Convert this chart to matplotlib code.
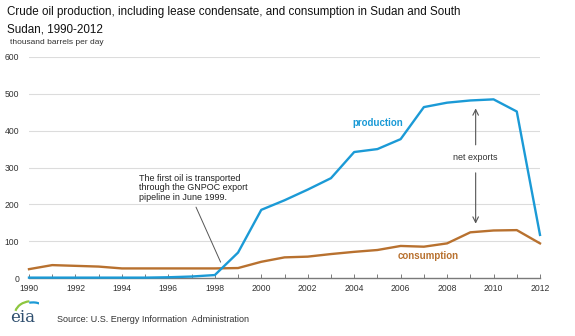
import matplotlib
matplotlib.use("Agg")
import matplotlib.pyplot as plt
from matplotlib.patches import Arc

plt.rcParams['font.family'] = ['Liberation Sans', 'DejaVu Sans']

years = list(range(1990, 2013))
production = [1, 1, 1, 1, 1, 1, 2, 4, 8, 69, 185, 211, 240, 271, 342, 350, 377,
              464, 476, 482, 485, 452, 117]
consumption = [24, 35, 33, 31, 26, 26, 26, 26, 26, 27, 44, 56, 58, 65, 71, 76, 87,
               85, 94, 124, 129, 130, 94]
yticks = [0, 100, 200, 300, 400, 500, 600]
xticks = list(range(1990, 2013, 2))

BLUE = '#1b9ad6'
BROWN = '#b8712f'

fig = plt.figure(figsize=(5.75, 3.36), dpi=100)
fig.patch.set_facecolor('white')
ax = fig.add_axes([29/575, 58/336, 511/575, 221/336])

ax.set_xlim(1990, 2012)
ax.set_ylim(0, 600)
for y in yticks[1:]:
    ax.axhline(y, color='#dcdcdc', lw=0.8, zorder=0)
ax.axhline(0, color='#7a7a7a', lw=1.0, zorder=1, clip_on=False)

ax.plot(years, consumption, color=BROWN, lw=1.7, zorder=3, clip_on=False)
ax.plot(years, production, color=BLUE, lw=1.7, zorder=4, clip_on=False)

for s in ax.spines.values():
    s.set_visible(False)
ax.set_yticks(yticks)
ax.set_yticklabels([str(v) for v in yticks])
ax.set_xticks(years, minor=True)
ax.set_xticks(xticks)
ax.set_xticklabels([str(v) for v in xticks])
ax.tick_params(axis='y', length=0, pad=7, labelsize=6.2, labelcolor='#333333')
ax.tick_params(axis='x', which='both', direction='in', length=3, width=0.7,
               color='#7a7a7a', pad=4, labelsize=6.2, labelcolor='#333333')

# Series labels
ax.text(2005.0, 422, 'production', color=BLUE, fontsize=7, fontweight='bold',
        ha='center', va='center')
ax.text(2007.2, 61, 'consumption', color=BROWN, fontsize=7, fontweight='bold',
        ha='center', va='center')

# Net exports arrows
ax.text(2009.23, 328, 'net exports', fontsize=6.5, color='#333333',
        ha='center', va='center')
ax.annotate('', xy=(2009.23, 468), xytext=(2009.23, 354),
            arrowprops=dict(arrowstyle='->', color='#555555', lw=0.8))
ax.annotate('', xy=(2009.23, 140), xytext=(2009.23, 293),
            arrowprops=dict(arrowstyle='->', color='#555555', lw=0.8))

# Pipeline annotation
ax.annotate('The first oil is transported\nthrough the GNPOC export\npipeline in June 1999.',
            xy=(1998.25, 43), xytext=(1994.75, 282), fontsize=6.5, color='#222222',
            ha='left', va='top', linespacing=1.05,
            arrowprops=dict(arrowstyle='-', color='#555555', lw=0.7,
                            shrinkA=2, shrinkB=0, relpos=(0.5, 0.0)))

# Title block
fig.text(7/575, 1 - 12/336, 'Crude oil production, including lease condensate, and consumption in Sudan and South',
         fontsize=8.4, color='#111111', va='center', ha='left')
fig.text(7/575, 1 - 29/336, 'Sudan, 1990-2012', fontsize=8.4, color='#111111',
         va='center', ha='left')
fig.text(10/575, 1 - 42/336, 'thousand barrels per day', fontsize=6, color='#333333',
         va='center', ha='left')

# Source line with logo
fig.text(57/575, 1 - 319/336, 'Source: U.S. Energy Information  Administration',
         fontsize=6.5, color='#333333', va='center', ha='left')
fig.text(23/575, 1 - 318/336, 'eia', fontsize=12, family='DejaVu Serif',
         color='#2f4f6f', va='center', ha='center')
arc_ax = fig.add_axes([9/575, 1 - 314/336, 30/575, 16/336])
arc_ax.set_xlim(0, 1)
arc_ax.set_ylim(0, 1)
arc_ax.axis('off')
arc_ax.add_patch(Arc((0.75, 0.0), 1.1, 1.6, theta1=95, theta2=160, color='#8dc63f', lw=1.6))
arc_ax.add_patch(Arc((0.8, 0.0), 1.0, 1.45, theta1=20, theta2=100, color='#1b9ad6', lw=1.6))

fig.savefig('out.png', dpi=100, facecolor='white')
